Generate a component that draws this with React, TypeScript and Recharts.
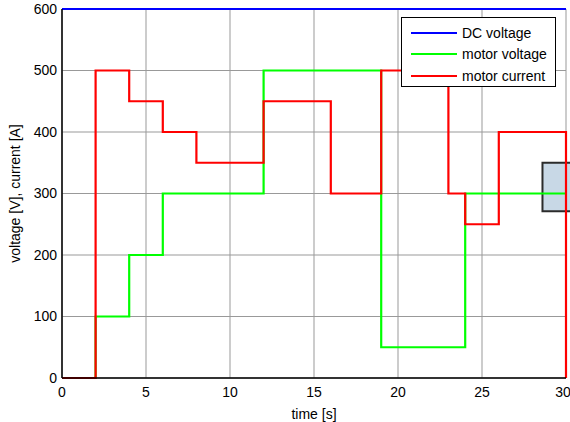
import React from 'react';
import {
  LineChart,
  Line,
  XAxis,
  YAxis,
  CartesianGrid,
  ReferenceArea,
} from 'recharts';

// step series: value holds from each time until the next one
const dcTimes = [0, 30];
const dcValues = [600, 600];

const voltageTimes = [0, 2, 4, 6, 12, 19, 24, 30];
const voltageValues = [0, 100, 200, 300, 500, 50, 300, 300];

const currentTimes = [0, 2, 4, 6, 8, 12, 16, 19, 23, 24, 26, 30];
const currentValues = [0, 500, 450, 400, 350, 450, 300, 500, 300, 250, 400, 0];

const xTicks = [0, 5, 10, 15, 20, 25, 30];
const yTicks = [0, 100, 200, 300, 400, 500, 600];

// datatip box at the right edge
const tipBox = { x1: 28.6, x2: 31.5, y1: 271, y2: 350 };

const toRows = (t: number[], v: number[]) => t.map((time, i) => ({ time, value: v[i] }));

const series = [
  { name: 'DC voltage', color: '#0000ff', data: toRows(dcTimes, dcValues) },
  { name: 'motor voltage', color: '#00ff00', data: toRows(voltageTimes, voltageValues) },
  { name: 'motor current', color: '#ff0000', data: toRows(currentTimes, currentValues) },
];

const font = 'Arial, "Liberation Sans", sans-serif';

function LegendBox() {
  return (
    <div
      style={{
        position: 'absolute',
        left: 401,
        top: 17,
        background: '#fff',
        border: '1px solid #000',
        width: 155,
        height: 70,
        boxSizing: 'border-box',
        padding: '4px 0 0 9px',
        fontFamily: font,
        fontSize: 14,
        color: '#000',
      }}
    >
      {series.map((s) => (
        <div key={s.name} style={{ display: 'flex', alignItems: 'center', height: 21.5 }}>
          <span style={{ display: 'inline-block', width: 46, height: 2, background: s.color, marginRight: 5 }} />
          <span>{s.name}</span>
        </div>
      ))}
    </div>
  );
}

export default function App() {
  return (
    <div style={{ position: 'absolute', left: 0, top: 0, width: 570, height: 422, background: '#fff' }}>
      <LineChart width={570} height={422} margin={{ top: 9, right: 4, left: 0, bottom: 0 }}>
        <CartesianGrid stroke="#999" strokeWidth={1} />
        <XAxis
          type="number"
          dataKey="time"
          domain={[0, 30]}
          ticks={xTicks}
          allowDuplicatedCategory={false}
          height={44}
          stroke="#000"
          strokeWidth={1.5}
          tickLine={false}
          tickSize={0}
          tickMargin={9}
          tick={{ fill: '#000', fontSize: 14, fontFamily: font }}
          label={{ value: 'time [s]', position: 'insideBottom', offset: 3, fill: '#000', fontSize: 14, fontFamily: font }}
        />
        <YAxis
          type="number"
          domain={[0, 600]}
          ticks={yTicks}
          width={62}
          stroke="#000"
          strokeWidth={1.5}
          tickLine={false}
          tickSize={0}
          tickMargin={5}
          tick={{ fill: '#000', fontSize: 14, fontFamily: font }}
          label={{
            value: 'voltage [V], current [A]',
            angle: -90,
            position: 'insideLeft',
            offset: 15,
            style: { textAnchor: 'middle' },
            fill: '#000',
            fontSize: 14,
            fontFamily: font,
          }}
        />
        {series.map((s) => (
          <Line
            key={s.name}
            data={s.data}
            dataKey="value"
            name={s.name}
            type="stepAfter"
            stroke={s.color}
            strokeWidth={2.2}
            dot={false}
            activeDot={false}
            isAnimationActive={false}
          />
        ))}
        <ReferenceArea
          x1={tipBox.x1}
          x2={tipBox.x2}
          y1={tipBox.y1}
          y2={tipBox.y2}
          ifOverflow="visible"
          fill="#c8d8e6"
          fillOpacity={1}
          stroke="#2b2b2b"
          strokeWidth={2}
        />
      </LineChart>
      <LegendBox />
    </div>
  );
}
